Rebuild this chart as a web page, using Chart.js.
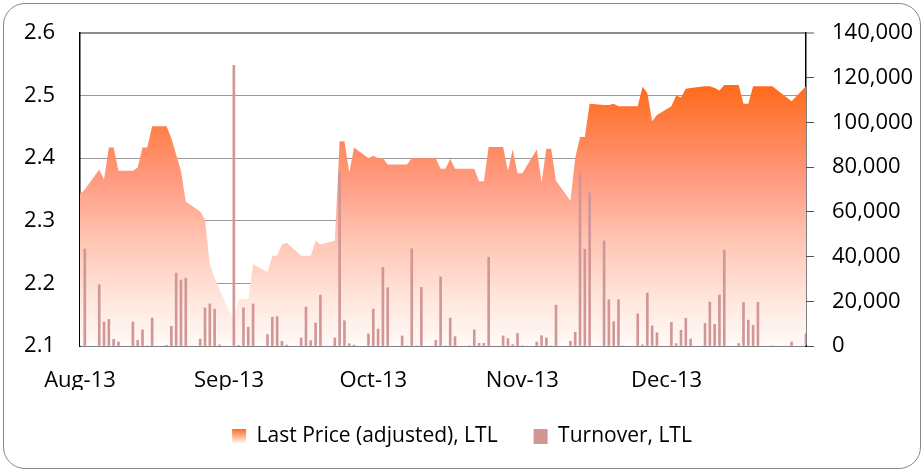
<!DOCTYPE html>
<html><head><meta charset="utf-8">
<script src="https://cdn.jsdelivr.net/npm/chart.js@4/dist/chart.umd.min.js"></script>
<style>
html,body{margin:0;padding:0;background:#fff;}
#wrap{position:relative;width:924px;height:472px;overflow:hidden;}
#frame{position:absolute;left:3px;top:3px;width:918px;height:466px;box-sizing:border-box;border:1.5px solid #868686;border-radius:22px;pointer-events:none;}
canvas{position:absolute;left:0;top:0;}
</style></head><body>
<div id="wrap"><canvas id="c" width="924" height="472"></canvas><div id="frame"></div></div>
<script>
// ---- data ----
const dates = [
 '2013-08-01','2013-08-02','2013-08-05','2013-08-06','2013-08-07','2013-08-08','2013-08-09','2013-08-12','2013-08-13','2013-08-14','2013-08-15','2013-08-16',
 '2013-08-19','2013-08-20','2013-08-21','2013-08-22','2013-08-23','2013-08-26','2013-08-27','2013-08-28','2013-08-29','2013-08-30',
 '2013-09-02','2013-09-03','2013-09-04','2013-09-05','2013-09-06','2013-09-09','2013-09-10','2013-09-11','2013-09-12','2013-09-13',
 '2013-09-16','2013-09-17','2013-09-18','2013-09-19','2013-09-20','2013-09-23','2013-09-24','2013-09-25','2013-09-26','2013-09-27','2013-09-30',
 '2013-10-01','2013-10-02','2013-10-03','2013-10-04','2013-10-07','2013-10-08','2013-10-09','2013-10-10','2013-10-11','2013-10-14','2013-10-15',
 '2013-10-16','2013-10-17','2013-10-18','2013-10-21','2013-10-22','2013-10-23','2013-10-24','2013-10-25','2013-10-28','2013-10-29','2013-10-30','2013-10-31',
 '2013-11-01','2013-11-04','2013-11-05','2013-11-06','2013-11-07','2013-11-08','2013-11-11','2013-11-12','2013-11-13','2013-11-14','2013-11-15',
 '2013-11-18','2013-11-19','2013-11-20','2013-11-21','2013-11-22','2013-11-25','2013-11-26','2013-11-27','2013-11-28','2013-11-29',
 '2013-12-02','2013-12-03','2013-12-04','2013-12-05','2013-12-06','2013-12-09','2013-12-10','2013-12-11','2013-12-12','2013-12-13',
 '2013-12-16','2013-12-17','2013-12-18','2013-12-19','2013-12-20','2013-12-23','2013-12-27','2013-12-30'
];
const price = [
 2.343,2.350,2.382,2.366,2.417,2.417,2.380,2.380,2.385,2.417,2.417,2.451,
 2.451,2.432,2.406,2.380,2.331,2.315,2.302,2.230,2.209,2.190,
 2.140,2.175,2.175,2.175,2.231,2.218,2.244,2.244,2.262,2.265,
 2.244,2.244,2.244,2.268,2.262,2.268,2.427,2.427,2.377,2.417,2.400,
 2.404,2.400,2.400,2.390,2.390,2.390,2.400,2.400,2.400,2.400,2.383,
 2.383,2.399,2.383,2.383,2.383,2.363,2.363,2.418,2.418,2.380,2.414,2.376,
 2.376,2.414,2.362,2.415,2.415,2.364,2.332,2.400,2.434,2.434,2.487,
 2.485,2.485,2.487,2.483,2.483,2.483,2.514,2.504,2.459,2.469,
 2.483,2.500,2.497,2.511,2.512,2.515,2.515,2.512,2.508,2.517,
 2.517,2.487,2.487,2.515,2.515,2.515,2.491,2.515
];
const turnover = [
 0,43400,27400,10700,11900,3000,1800,10700,2500,7200,0,12500,
 300,8800,32600,29500,30400,3100,17000,18800,16500,500,
 125500,300,17000,8400,18800,5100,12900,13100,2100,400,
 3600,17400,2400,10300,22700,3600,77700,11300,1000,400,5400,
 16500,7600,35200,26100,4500,0,43500,0,26200,2500,30900,
 0,12500,4200,0,7200,1200,1200,39700,4500,3300,600,5600,
 0,1800,4600,3600,0,18300,2100,6100,78100,43300,68500,
 47000,20700,10900,20700,0,14400,500,23700,9000,5900,
 10600,1100,7000,12400,3100,10100,19700,9700,22800,42900,
 1100,19400,11600,9200,19500,0,1800,5400
];
const monthStarts = ['2013-08-01','2013-09-01','2013-10-01','2013-11-01','2013-12-01'];
const monthLabels = ['Aug-13','Sep-13','Oct-13','Nov-13','Dec-13'];
const priceTicks = [2.1,2.2,2.3,2.4,2.5,2.6];
const turnoverTicks = [0,20000,40000,60000,80000,100000,120000,140000];
const xEnd = '2013-12-30';

// ---- helpers ----
const DAY = 86400000;
const T0 = Date.UTC(2013,7,1);
const dayOf = s => { const [y,m,d] = s.split('-').map(Number); return (Date.UTC(y,m-1,d)-T0)/DAY; };
const xs = dates.map(dayOf);
const priceData = xs.map((x,i)=>({x, y: price[i]}));
const turnData = xs.map((x,i)=>({x, y: turnover[i]}));
const FONT = "'Open Sans', sans-serif";

function areaGradient(chart){
  const {ctx, chartArea, scales} = chart;
  if (!chartArea || !scales.y) return 'rgba(255,120,60,0.6)';
  const top = scales.y.getPixelForValue(Math.max(...price));
  const g = ctx.createLinearGradient(0, top, 0, chartArea.bottom);
  g.addColorStop(0, '#FF6A1A');
  g.addColorStop(0.36, '#FF9A80');
  g.addColorStop(0.59, '#FFC4B2');
  g.addColorStop(0.82, '#FFE6DD');
  g.addColorStop(1, '#FFFAF8');
  return g;
}

const legendGradient = {
  id: 'legendGradient',
  beforeDraw(chart){
    const lg = chart.legend;
    if (!lg || !lg.legendHitBoxes || !lg.legendHitBoxes.length) return;
    const idx = lg.legendItems.findIndex(it => it.datasetIndex === 0);
    if (idx < 0) return;
    const hb = lg.legendHitBoxes[idx];
    const fs = lg.options.labels.font.size, bh = lg.options.labels.boxHeight;
    const top = hb.top + Math.max((fs - bh)/2, 0);
    const g = chart.ctx.createLinearGradient(0, top, 0, top + bh);
    g.addColorStop(0, '#FF6A1A');
    g.addColorStop(1, '#FFFFFF');
    lg.legendItems[idx].fillStyle = g;
  }
};

const noVPad = s => { s.paddingTop = 0; s.paddingBottom = 0; };

new Chart(document.getElementById('c'), {
  type: 'line',
  data: {
    datasets: [
      { type:'line', label:'Last Price (adjusted), LTL', data: priceData, yAxisID:'y',
        fill:'start', backgroundColor: c => areaGradient(c.chart),
        borderColor:'rgba(0,0,0,0)', borderWidth:0, pointRadius:0, tension:0, order:2 },
      { type:'bar', label:'Turnover, LTL', data: turnData, yAxisID:'y2',
        backgroundColor:'#D29695', borderWidth:0, barThickness:2, order:1 }
    ]
  },
  options: {
    responsive:false, animation:false, devicePixelRatio:1,
    layout:{ padding:{ top:33, left:0, right:0, bottom:15 } },
    plugins:{
      tooltip:{enabled:false},
      legend:{ position:'bottom', align:'center',
        labels:{ boxWidth:14, boxHeight:15, padding:36, color:'#000', font:{family:FONT, size:21},
          sort:(a,b) => a.datasetIndex - b.datasetIndex } }
    },
    scales:{
      x:{ type:'linear', min:0, max: dayOf(xEnd), offset:false,
        grid:{ display:false, drawTicks:false },
        border:{ display:true, color:'#000', width:1.5 },
        afterBuildTicks: s => { s.ticks = monthStarts.map(d => ({value: dayOf(d)})); },
        ticks:{ autoSkip:false, maxRotation:0, padding:22, color:'#000', font:{family:FONT, size:22},
          callback:(v,i) => monthLabels[i] },
        afterFit: s => { s.height = 44; }
      },
      y:{ position:'left', min:2.1, max:2.6,
        afterBuildTicks: s => { s.ticks = priceTicks.map(v => ({value:v})); },
        grid:{ drawTicks:false, lineWidth:1,
          color: c => (c.tick && c.tick.value > 2.15 && c.tick.value < 2.55) ? '#333333' : 'rgba(0,0,0,0)' },
        border:{ display:true, color:'#000', width:1.5, dash:[1,1] },
        ticks:{ padding:25, color:'#000', font:{family:FONT, size:22}, callback: v => Number(v).toFixed(1) },
        afterFit: s => { s.width = 80; noVPad(s); }
      },
      y2:{ position:'right', min:0, max:140000,
        afterBuildTicks: s => { s.ticks = turnoverTicks.map(v => ({value:v})); },
        grid:{ drawOnChartArea:true, drawTicks:true, tickLength:8, tickWidth:1, tickColor:'#555555',
          color: c => (c.tick && c.tick.value === 140000) ? '#8C8C8C' : 'rgba(0,0,0,0)',
          lineWidth: c => (c.tick && c.tick.value === 140000) ? 2 : 1 },
        border:{ display:true, color:'#000', width:1.5 },
        ticks:{ padding:18, color:'#000', font:{family:FONT, size:22}, callback: v => Number(v).toLocaleString('en-US') },
        afterFit: s => { s.width = 118; noVPad(s); }
      }
    }
  },
  plugins:[legendGradient]
});
</script>
</body></html>
